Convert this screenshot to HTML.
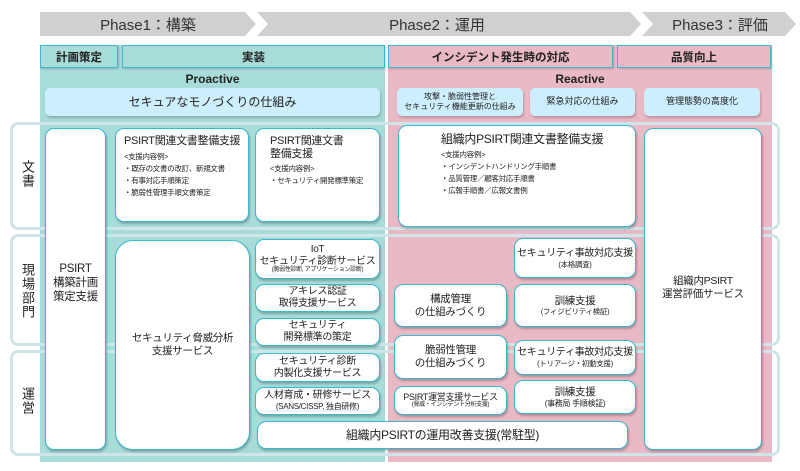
<!DOCTYPE html>
<html><head><meta charset="utf-8"><style>
*{box-sizing:border-box;margin:0;padding:0}
body{width:800px;height:471px;background:#fff;position:relative;overflow:hidden;font-family:"Liberation Sans","Noto Sans CJK JP",sans-serif;color:#222}
.a{position:absolute}
.band{position:absolute;border:3px solid #cfe5e9;border-radius:8px}
.box{position:absolute;background:#fff;border:1.5px solid #3bb8cf;border-radius:9px;box-shadow:1px 2px 2px rgba(0,0,0,.25);display:flex;flex-direction:column;align-items:center;justify-content:center;text-align:center;font-size:10.5px;line-height:1.2;white-space:nowrap;letter-spacing:-0.3px}
.hd{position:absolute;border:1.5px solid #3bb8cf;display:flex;align-items:center;justify-content:center;font-weight:bold;font-size:11.5px;box-shadow:1px 1px 2px rgba(0,0,0,.2)}
.lb{position:absolute;background:#cdeefc;border-radius:5px;display:flex;align-items:center;justify-content:center;text-align:center;font-size:10px;line-height:1.25;box-shadow:1px 2px 2px rgba(0,0,0,.2);white-space:nowrap}
.sm{font-size:6.5px}
.tl{align-items:flex-start;justify-content:flex-start;text-align:left;padding:6px 0 0 8px}
.tl .s{font-size:7.5px;line-height:1.6}
.vt{position:absolute;writing-mode:vertical-rl;font-size:13px;letter-spacing:1px}
</style></head><body>
<svg class="a" style="left:0;top:0" width="800" height="40">
<polygon points="40,12 245,12 256,24 245,36 40,36" fill="#d0d0d0"/>
<polygon points="257,12 630,12 641,24 630,36 257,36 268,24" fill="#d0d0d0"/>
<polygon points="642,12 785,12 796,24 785,36 642,36 653,24" fill="#d0d0d0"/>
<text x="148" y="30" font-size="15" text-anchor="middle" fill="#333" font-family="Liberation Sans,Noto Sans CJK JP,sans-serif">Phase1：構築</text>
<text x="437" y="30" font-size="15" text-anchor="middle" fill="#333" font-family="Liberation Sans,Noto Sans CJK JP,sans-serif">Phase2：運用</text>
<text x="720" y="30" font-size="15" text-anchor="middle" fill="#333" font-family="Liberation Sans,Noto Sans CJK JP,sans-serif">Phase3：評価</text>
</svg>
<div class="a" style="left:40px;top:45px;width:345px;height:417px;background:#a7dcd9"></div>
<div class="a" style="left:388px;top:45px;width:384px;height:417px;background:#e9b9c6"></div>
<div class="band" style="left:10px;top:122px;width:770px;height:108px"></div>
<div class="band" style="left:10px;top:234px;width:770px;height:112px"></div>
<div class="band" style="left:10px;top:350px;width:770px;height:106px"></div>
<div class="vt" style="left:18px;top:160px">文書</div>
<div class="vt" style="left:18px;top:263px">現場部門</div>
<div class="vt" style="left:18px;top:387px">運営</div>
<div class="hd" style="left:40px;top:45px;width:78px;height:23px;background:#a7dcd9">計画策定</div>
<div class="hd" style="left:122px;top:45px;width:263px;height:23px;background:#a7dcd9">実装</div>
<div class="hd" style="left:388px;top:45px;width:225px;height:23px;background:#e9b9c6">インシデント発生時の対応</div>
<div class="hd" style="left:617px;top:45px;width:154px;height:23px;background:#e9b9c6">品質向上</div>
<div class="a" style="left:40px;top:72px;width:345px;text-align:center;font-weight:bold;font-size:12px">Proactive</div>
<div class="a" style="left:388px;top:72px;width:384px;text-align:center;font-weight:bold;font-size:12px">Reactive</div>
<div class="lb" style="left:45px;top:88px;width:335px;height:28px;font-size:12px">セキュアなモノづくりの仕組み</div>
<div class="lb" style="left:397px;top:88px;width:126px;height:28px;font-size:8px">攻撃・脆弱性管理と<br>セキュリティ機能更新の仕組み</div>
<div class="lb" style="left:530px;top:88px;width:105px;height:28px;font-size:9px">緊急対応の仕組み</div>
<div class="lb" style="left:644px;top:88px;width:116px;height:28px;font-size:9px">管理態勢の高度化</div>
<div class="box" style="left:45px;top:128px;width:61px;height:322px;justify-content:flex-start;padding-top:134px;font-size:11.5px">PSIRT<br>構築計画<br>策定支援</div>
<div class="box tl" style="left:115px;top:128px;width:134px;height:94px"><div style="font-size:11px">PSIRT関連文書整備支援</div><div class="s" style="margin-top:3px">&lt;支援内容例&gt;<br>・既存の文書の改訂、新規文書<br>・有事対応手順策定<br>・脆弱性管理手順文書策定</div></div>
<div class="box tl" style="left:255px;top:128px;width:125px;height:94px;padding-left:14px"><div style="font-size:11px;line-height:1.15">PSIRT関連文書<br>整備支援</div><div class="s" style="margin-top:3px">&lt;支援内容例&gt;<br>・セキュリティ開発標準策定</div></div>
<div class="box" style="left:115px;top:240px;width:135px;height:210px;border-radius:18px">セキュリティ脅威分析<br>支援サービス</div>
<div class="box" style="left:255px;top:239px;width:125px;height:40px;font-size:10px;line-height:1.15">IoT<br>セキュリティ診断サービス<span style="font-size:6px">(脆弱性診断, アプリケーション診断)</span></div>
<div class="box" style="left:255px;top:284px;width:125px;height:28px;font-size:10px">アキレス認証<br>取得支援サービス</div>
<div class="box" style="left:255px;top:318px;width:125px;height:28px;font-size:10px">セキュリティ<br>開発標準の策定</div>
<div class="box" style="left:255px;top:353px;width:125px;height:29px;font-size:10px">セキュリティ診断<br>内製化支援サービス</div>
<div class="box" style="left:255px;top:387px;width:125px;height:28px;font-size:10px">人材育成・研修サービス<br><span style="font-size:8px">(SANS/CISSP, 独自研修)</span></div>
<div class="box" style="left:257px;top:421px;width:371px;height:28px;font-size:12px">組織内PSIRTの運用改善支援(常駐型)</div>
<div class="box tl" style="left:398px;top:125px;width:238px;height:102px;padding-left:42px"><div style="font-size:12px">組織内PSIRT関連文書整備支援</div><div class="s" style="margin-top:3px">&lt;支援内容例&gt;<br>・インシデントハンドリング手順書<br>・品質管理／顧客対応手順書<br>・広報手順書／広報文書例</div></div>
<div class="box" style="left:644px;top:128px;width:118px;height:322px;justify-content:flex-start;padding-top:146px">組織内PSIRT<br>運営評価サービス</div>
<div class="box" style="left:514px;top:238px;width:122px;height:40px;font-size:10px">セキュリティ事故対応支援<span style="font-size:7.5px">(本格調査)</span></div>
<div class="box" style="left:394px;top:284px;width:113px;height:43px">構成管理<br>の仕組みづくり</div>
<div class="box" style="left:514px;top:284px;width:122px;height:43px">訓練支援<br><span style="font-size:7.5px">(フィジビリティ検証)</span></div>
<div class="box" style="left:394px;top:335px;width:113px;height:44px">脆弱性管理<br>の仕組みづくり</div>
<div class="box" style="left:514px;top:340px;width:122px;height:35px;font-size:10px">セキュリティ事故対応支援<span style="font-size:7.5px">(トリアージ・初動支援)</span></div>
<div class="box" style="left:394px;top:386px;width:113px;height:29px;font-size:9px">PSIRT運営支援サービス<span style="font-size:6px">(脅威・インシデント分析支援)</span></div>
<div class="box" style="left:514px;top:380px;width:122px;height:34px">訓練支援<br><span style="font-size:8px">(事務局 手順検証)</span></div>
</body></html>
